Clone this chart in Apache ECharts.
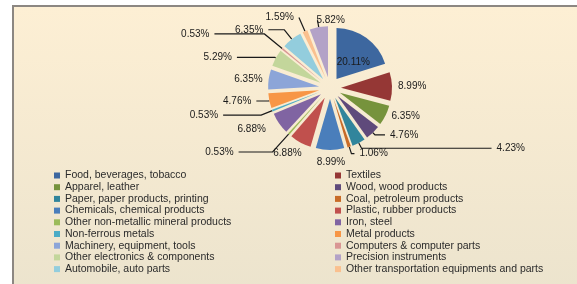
<!DOCTYPE html>
<html>
<head>
<meta charset="utf-8">
<script src="https://cdn.jsdelivr.net/npm/echarts@6/dist/echarts.min.js"></script>
<style>
html,body{margin:0;padding:0;background:#fff;width:577px;height:284px;overflow:hidden;}
#bg{position:absolute;left:12px;top:5px;width:600px;height:300px;border-left:2px solid #8c8782;border-top:2px solid #8c8782;background:linear-gradient(#fdefd4,#ebe3cd);}
#chart{position:absolute;left:0;top:0;width:577px;height:284px;}
</style>
</head>
<body>
<div id="bg"></div>
<div id="chart"></div>
<script>
// Slices in drawing order (clockwise from 12 o'clock)
const categories = [
  "Food, beverages, tobacco", "Textiles", "Apparel, leather", "Wood, wood products",
  "Paper, paper products, printing", "Coal, petroleum products", "Chemicals, chemical products",
  "Plastic, rubber products", "Other non-metallic mineral products", "Iron, steel",
  "Non-ferrous metals", "Metal products", "Machinery, equipment, tools",
  "Other electronics & components", "Computers & computer parts", "Automobile, auto parts",
  "Other transportation equipments and parts", "Precision instruments"
];
const shares = [20.11, 8.99, 6.35, 4.76, 4.23, 1.06, 8.99, 6.88, 0.53, 6.88, 0.53, 4.76, 6.35, 5.29, 0.53, 6.35, 1.59, 5.82];
const colors = ["#3d679f", "#953735", "#76933c", "#5f4a7b", "#31859c", "#c86b27", "#4a7ebb", "#c0504d", "#9bbb59", "#8064a2", "#4bacc6", "#f79646", "#8ca5d8", "#c3d69b", "#d99694", "#93cddd", "#fac08f", "#b3a2c7"];
// Legend columns as shown in the reference
const legendLeft = ["Food, beverages, tobacco", "Apparel, leather", "Paper, paper products, printing", "Chemicals, chemical products", "Other non-metallic mineral products", "Non-ferrous metals", "Machinery, equipment, tools", "Other electronics & components", "Automobile, auto parts"];
const legendRight = ["Textiles", "Wood, wood products", "Coal, petroleum products", "Plastic, rubber products", "Iron, steel", "Metal products", "Computers & computer parts", "Precision instruments", "Other transportation equipments and parts"];

// label styling: leader line [length, length2, visible]
const leader = [[0,0,0],[1,0,0],[1,0,0],[3,10,1],[6,130,1],[7,3,1],[12,0,0],[12,0,0],[24,34,1],[10,0,0],[12,38,1],[1,12,1],[1,0,0],[1,38,1],[23,50,1],[12,16,1],[15,0,1],[7,0,1]];

const data = categories.map((c, i) => {
  const item = {
    name: c, value: shares[i], selected: true,
    itemStyle: {color: colors[i]},
    labelLine: {length: leader[i][0], length2: leader[i][1], show: !!leader[i][2]}
  };
  if (i === 0) item.label = {position: 'inside'};
  return item;
});

// small label nudges (label styling only)
function labelTweak(p) {
  const w = p.labelRect.width;
  if (p.dataIndex === 0) return {dy: 6};               // food label a bit lower inside slice
  if (p.dataIndex === 17) return {dx: w + 4};          // precision label to the right of its leader
  if (p.dataIndex === 6) return {dx: -w / 2 - 4};      // chemicals label centred under slice
  if (p.dataIndex === 7) return {dx: 12};              // plastic label under slice
  return {};
}

const chart = echarts.init(document.getElementById('chart'), null, {renderer: 'canvas'});
const legendText = {fontFamily: 'Liberation Sans', fontSize: 10.5, color: '#2b2b2b'};
chart.setOption({
  animation: false,
  color: colors,
  legend: [
    {data: legendLeft, orient: 'vertical', left: 54, top: 170, itemWidth: 6, itemHeight: 6, itemGap: 0.7, icon: 'rect', textStyle: legendText, selectedMode: false, padding: 0},
    {data: legendRight, orient: 'vertical', left: 335, top: 170, itemWidth: 6, itemHeight: 6, itemGap: 0.7, icon: 'rect', textStyle: legendText, selectedMode: false, padding: 0}
  ],
  series: [{
    type: 'pie',
    center: [330, 88],
    radius: 51,
    startAngle: 90,
    clockwise: true,
    selectedMode: 'multiple',
    selectedOffset: 11,
    avoidLabelOverlap: false,
    labelLayout: labelTweak,
    label: {
      formatter: p => p.value.toFixed(2) + '%',
      fontFamily: 'Liberation Sans', fontSize: 10, color: '#1a1a1a'
    },
    labelLine: {lineStyle: {color: '#1a1a1a', width: 1.2}, smooth: false},
    data: data
  }]
});
</script>
</body>
</html>
